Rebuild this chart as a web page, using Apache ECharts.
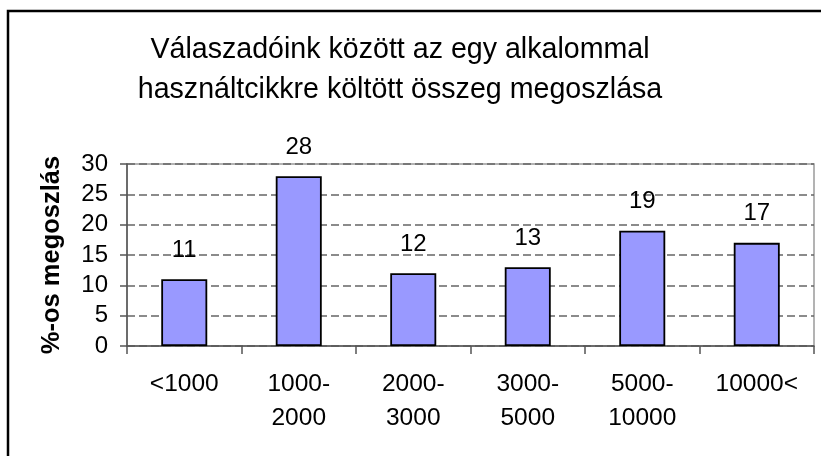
<!DOCTYPE html>
<html>
<head>
<meta charset="utf-8">
<script src="https://cdn.jsdelivr.net/npm/echarts@6/dist/echarts.min.js"></script>
<style>
html,body{margin:0;padding:0;background:#fff;}
#chart{width:821px;height:456px;}
</style>
</head>
<body>
<div id="chart"></div>
<script>
const titleLines = ['Válaszadóink között az egy alkalommal', 'használtcikkre költött összeg megoszlása'];
const categories = ['<1000', '1000-\n2000', '2000-\n3000', '3000-\n5000', '5000-\n10000', '10000<'];
const values = [11, 28, 12, 13, 19, 17];
const yAxisName = '%-os megoszlás';
const yMin = 0, yMax = 30, yStep = 5;

const FONT = '"Liberation Sans", Arial, sans-serif';
const chart = echarts.init(document.getElementById('chart'));
chart.setOption({
  animation: false,
  backgroundColor: '#fff',
  textStyle: { fontFamily: FONT },
  graphic: [
    { type: 'rect', shape: { x: 8, y: 11, width: 900, height: 600 }, style: { fill: 'none', stroke: '#000', lineWidth: 2.5 }, z: 100 },
    { type: 'text', x: 400, y: 50, style: { text: titleLines[0], font: '28.6px ' + FONT, fill: '#000', textAlign: 'center', textVerticalAlign: 'middle' } },
    { type: 'text', x: 400, y: 90, style: { text: titleLines[1], font: '28.6px ' + FONT, fill: '#000', textAlign: 'center', textVerticalAlign: 'middle' } }
  ],
  grid: { left: 127, right: 7, top: 164, bottom: 110, show: true, borderColor: '#9a9a9a', borderWidth: 1.5, containLabel: false },
  xAxis: {
    type: 'category',
    data: categories,
    axisLine: { lineStyle: { color: '#555', width: 1.5 } },
    axisTick: { show: true, length: 8, alignWithLabel: false, lineStyle: { color: '#555', width: 1.5 } },
    axisLabel: { fontSize: 24.5, color: '#000', margin: 21, lineHeight: 34, fontFamily: FONT, interval: 0 }
  },
  yAxis: {
    type: 'value',
    min: yMin, max: yMax, interval: yStep,
    name: yAxisName,
    nameLocation: 'middle',
    nameGap: 62,
    nameTextStyle: { fontSize: 25.5, fontWeight: 'bold', color: '#000', fontFamily: FONT },
    axisLine: { show: true, lineStyle: { color: '#555', width: 1.5 } },
    axisTick: { show: true, length: 7, lineStyle: { color: '#555', width: 1.5 } },
    axisLabel: { fontSize: 24, color: '#000', margin: 19, fontFamily: FONT },
    splitLine: { show: true, lineStyle: { color: '#666', type: [8, 4], width: 1.5 } }
  },
  series: [{
    type: 'bar',
    data: values,
    barWidth: 46,
    itemStyle: { color: '#9999FF', borderColor: '#000', borderWidth: 1.8 },
    label: { show: true, position: 'top', distance: 17, fontSize: 24, color: '#000', fontFamily: FONT }
  }]
});
</script>
</body>
</html>
